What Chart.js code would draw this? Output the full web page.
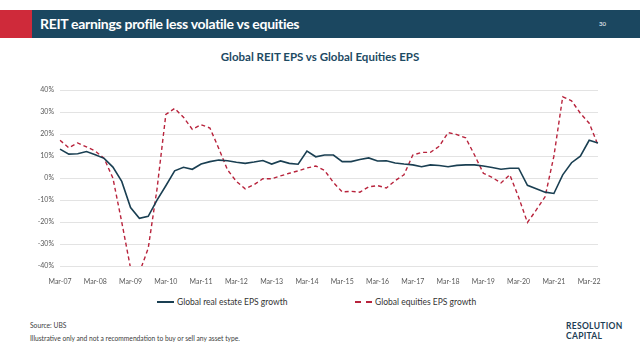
<!DOCTYPE html>
<html>
<head>
<meta charset="utf-8">
<script src="https://cdn.jsdelivr.net/npm/chart.js@4/dist/chart.umd.min.js"></script>
<style>
  html, body { margin:0; padding:0; background:#fff; }
  body { width:640px; height:360px; position:relative; overflow:hidden; font-family:Lato, 'Open Sans', sans-serif; }
  .band { position:absolute; left:0; top:10px; width:640px; height:28px; background:#1b4760; }
  .band .red { position:absolute; left:0; top:0; width:32px; height:28px; background:#cf2a3a; }
  .band .titel { position:absolute; left:40px; top:5px; color:#fff; font-weight:700; font-size:14px; letter-spacing:-0.3px; white-space:nowrap; }
  .band .pagina { position:absolute; left:599px; top:10px; color:#fff; font-size:6px; }
  .charttitel { position:absolute; left:0; width:640px; top:50px; text-align:center; color:#1d4a63; font-weight:700; font-size:11.5px; }
  #wrap { position:absolute; left:0; top:80px; width:610px; height:205px; }
  .legenda { position:absolute; top:297px; font-size:8.5px; color:#333; white-space:nowrap; }
  .legenda .lijn { display:inline-block; width:17px; vertical-align:middle; margin-right:3px; position:relative; top:-1px; }
  .voet { position:absolute; left:30px; font-size:6.7px; color:#404040; white-space:nowrap; }
  .logo { position:absolute; left:566px; top:321px; color:#1d3e55; font-weight:700; font-size:8.5px; line-height:10px; letter-spacing:0.3px; }
</style>
</head>
<body>
<div class="band"><div class="red"></div><div class="titel">REIT earnings profile less volatile vs equities</div><div class="pagina">30</div></div>
<div class="charttitel">Global REIT EPS vs Global Equities EPS</div>
<div id="wrap"><canvas id="chart"></canvas></div>
<div class="legenda" style="left:157px"><span class="lijn" style="border-top:2px solid #1a3f52"></span>Global real estate EPS growth</div>
<div class="legenda" style="left:355px"><span class="lijn" style="border-top:2px dashed #b8233c"></span>Global equities EPS growth</div>
<div class="voet" style="top:321px">Source: UBS</div>
<div class="voet" style="top:334px">Illustrative only and not a recommendation to buy or sell any asset type.</div>
<div class="logo">RESOLUTION<br>CAPITAL</div>
<script>
// Kwartalen Mar-07 t/m Jun-22
const JAREN   = ['07','08','09','10','11','12','13','14','15','16','17','18','19','20','21','22'];
const MAANDEN = ['Mar','Jun','Sep','Dec'];
const Y_TICKS = [-40, -30, -20, -10, 0, 10, 20, 30, 40];

const reitGroei = [
  13.2, 10.9, 11.1, 12.1, 10.6, 9.0, 5.0, -1.5,
  -13.4, -18.3, -17.4, -10.0, -3.5, 3.3, 4.9, 4.0,
  6.4, 7.5, 8.2, 7.9, 7.2, 6.7, 7.3, 8.0,
  6.4, 7.8, 6.7, 6.3, 12.3, 9.7, 10.5, 10.5,
  7.5, 7.5, 8.5, 9.2, 7.8, 7.9, 6.9, 6.4,
  6.0, 5.2, 6.0, 5.7, 5.2, 5.8, 6.0, 6.0,
  5.5, 4.8, 4.0, 4.5, 4.5, -3.3, -4.9, -6.4,
  -7.0, 1.5, 7.0, 10.0, 17.2, 16.0
];
const aandelenGroei = [
  17.2, 13.8, 16.0, 14.2, 12.3, 9.0, 0.0, -20.0,
  -41.0, -43.0, -32.0, -5.0, 29.0, 31.7, 27.7, 22.2,
  24.3, 22.8, 13.5, 3.7, -1.5, -4.9, -3.0, -0.3,
  -0.3, 1.0, 2.2, 3.3, 4.6, 5.5, 3.5, -2.0,
  -6.3, -6.0, -6.4, -4.0, -3.4, -4.5, -1.2, 1.5,
  10.5, 11.7, 11.7, 14.5, 20.7, 19.8, 18.3, 10.5,
  2.2, 0.3, -2.2, 1.5, -8.7, -20.2, -14.5, -8.5,
  10.0, 37.0, 35.2, 29.5, 25.0, 15.0
];

const labels = [];
JAREN.forEach(j => MAANDEN.forEach(m => labels.push(m + '-' + j)));
labels.length = reitGroei.length;

new Chart(document.getElementById('chart'), {
  type: 'line',
  data: {
    labels,
    datasets: [
      { data: reitGroei, borderColor: '#1a3f52', borderWidth: 1.6, pointRadius: 0, tension: 0, fill: false },
      { data: aandelenGroei, borderColor: '#b8233c', borderWidth: 1.4, borderDash: [4, 3], pointRadius: 0, tension: 0, fill: false }
    ]
  },
  options: {
    responsive: true, maintainAspectRatio: false, animation: false,
    layout: { padding: { top: 8, right: 12, bottom: 0, left: 0 } },
    plugins: { legend: { display: false }, tooltip: { enabled: false } },
    scales: {
      x: {
        offset: false,
        grid: { display: false }, border: { display: false },
        ticks: {
          autoSkip: false, maxRotation: 0, padding: 4,
          color: '#595959', font: { size: 7, family: 'Lato' },
          callback: (v, i) => i % 4 === 0 ? labels[i] : ''
        },
        afterFit: s => { s.height = 19; }
      },
      y: {
        min: -40, max: 40,
        afterBuildTicks: s => { s.ticks = Y_TICKS.map(v => ({ value: v })); },
        grid: { color: '#dcdcdc', lineWidth: 0.8, drawTicks: false },
        border: { display: false },
        ticks: { padding: 6, color: '#595959', font: { size: 7, family: 'Lato' }, callback: v => v + '%' },
        afterFit: s => { s.width = 60; }
      }
    }
  }
});
</script>
</body>
</html>
